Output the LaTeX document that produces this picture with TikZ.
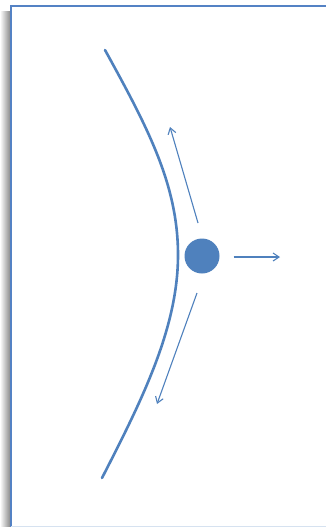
\documentclass[tikz,border=0pt]{standalone}
\usepackage{tikz}
\usetikzlibrary{arrows.meta, positioning, calc}
\definecolor{officeblue}{RGB}{79, 129, 189}
\definecolor{frameblue}{RGB}{84, 130, 196}
\definecolor{paleblue}{RGB}{214, 226, 240}
\definecolor{shadowgray}{RGB}{140, 140, 140}

\tikzset{
  surface/.style={draw=officeblue, line width=2.6pt, line cap=round},
  motion/.style={draw=officeblue, line width=1.1pt, -{Straight Barb[length=6pt, width=8pt]}},
  particle/.style={circle, fill=officeblue, minimum size=35pt, inner sep=0pt}
}

\begin{document}
\begin{tikzpicture}[x=1pt, y=-1pt]
  \clip (0,0) rectangle (326,527);
  \fill[white] (0,0) rectangle (326,527);
  % frame with a soft shadow on the left
  \shade[left color=white, right color=shadowgray] (0,12) rectangle (10,527);
  \draw[frameblue, line width=2pt] (10.5,527) -- (10.5,6.5) -- (330,6.5);
  \draw[paleblue, line width=1.5pt] (10.5,526.5) -- (330,526.5);

  % curved wall
  \coordinate (walltop) at (105,50);
  \coordinate (wallmid) at (178,255);
  \coordinate (wallbot) at (102,478);
  \draw[surface] (walltop) .. controls (148,128) and (178,185) .. (wallmid)
                 .. controls (178,328) and (142,400) .. (wallbot);

  % the particle and its motions
  \node[particle] (dot) at (202,256) {};
  \coordinate (upstart) at (198,223);
  \coordinate (upend) at (170,127);
  \coordinate (downstart) at (197,293);
  \coordinate (downend) at (157,404);
  \coordinate (rightend) at (280,257);
  \draw[motion] (upstart) -- (upend);
  \draw[motion] (downstart) -- (downend);
  \draw[motion] ($(dot.east)+(14,1)$) -- (rightend);
\end{tikzpicture}
\end{document}
